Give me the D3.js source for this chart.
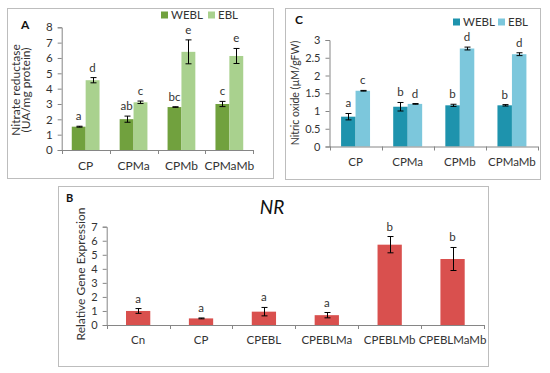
<!DOCTYPE html>
<html><head><meta charset="utf-8">
<script src="https://cdn.jsdelivr.net/npm/d3@7/dist/d3.min.js"></script>
<style>body{margin:0;background:#fff}svg{display:block;font-family:Lato,"Open Sans",sans-serif}</style>
</head><body><svg id="c" width="550" height="373"></svg>
<script>
// Panel A: Nitrate reductase
const catsA = ["CP","CPMa","CPMb","CPMaMb"];
const seriesA = ["WEBL","EBL"];
const webA = [1.52, 2.01, 2.80, 3.00];
const webAErr = [0.03, 0.2, 0.02, 0.17];
const eblA = [4.55, 3.11, 6.40, 6.13];
const eblAErr = [0.17, 0.08, 0.78, 0.49];
const webALet = ["a","ab","bc","c"];
const eblALet = ["d","c","e","e"];
const ticksA = [0,1,2,3,4,5,6,7,8];

// Panel C: Nitric oxide
const catsC = ["CP","CPMa","CPMb","CPMaMb"];
const webC = [0.84, 1.12, 1.16, 1.16];
const webCErr = [0.09, 0.12, 0.03, 0.02];
const eblC = [1.57, 1.20, 2.76, 2.60];
const eblCErr = [0.01, 0.01, 0.04, 0.04];
const webCLet = ["a","b","b","b"];
const eblCLet = ["c","d","d","d"];
const ticksC = [0,0.5,1,1.5,2,2.5,3];

// Panel B: NR relative expression
const catsB = ["Cn","CP","CPEBL","CPEBLMa","CPEBLMb","CPEBLMaMb"];
const valB = [1.0, 0.47, 0.95, 0.70, 5.72, 4.70];
const errB = [0.17, 0.03, 0.30, 0.19, 0.58, 0.82];
const letB = ["a","a","a","a","b","b"];
const ticksB = [0,1,2,3,4,5,6,7];

const svg = d3.select("#c");
const axisCol = "#868686", txt = "#333";

function frame(x0,y0,x1,y1){
  svg.append("rect").attr("x",x0+0.5).attr("y",y0+0.5).attr("width",x1-x0).attr("height",y1-y0)
    .attr("fill","none").attr("stroke","#bdbdbd").attr("stroke-width",1);
}

function yAxis(y, x, ticks, fmt, fs){
  const g = svg.append("g").attr("transform",`translate(${x},0)`)
    .call(d3.axisLeft(y).tickValues(ticks).tickSize(4).tickPadding(5).tickFormat(fmt));
  g.select(".domain").attr("stroke",axisCol);
  g.selectAll(".tick line").attr("stroke",axisCol);
  g.selectAll("text").attr("fill",txt).style("font-size",fs+"px").style("font-family","Lato");
}

function xAxis(x, yPos, labelY, fs){
  const [r0,r1] = x.range();
  svg.append("line").attr("x1",r0).attr("x2",r1).attr("y1",yPos+0.5).attr("y2",yPos+0.5).attr("stroke",axisCol);
  const bounds = x.domain().map(d=>x(d)).concat([r1]);
  svg.append("g").selectAll("line").data(bounds).join("line")
    .attr("x1",d=>Math.round(d)+0.5).attr("x2",d=>Math.round(d)+0.5).attr("y1",yPos).attr("y2",yPos+4).attr("stroke",axisCol);
  svg.append("g").selectAll("text").data(x.domain()).join("text")
    .attr("x",d=>x(d)+x.bandwidth()/2).attr("y",labelY).attr("text-anchor","middle")
    .attr("fill",txt).style("font-size",fs+"px").text(d=>d);
}

function errBars(data, y, cap){
  const g = svg.append("g").attr("stroke","#000").attr("stroke-width",1);
  data.forEach(d=>{
    const cx = Math.round(d.cx)+0.5;
    g.append("line").attr("x1",cx).attr("x2",cx).attr("y1",y(d.v+d.e)).attr("y2",y(d.v-d.e));
    g.append("line").attr("x1",cx-cap).attr("x2",cx+cap).attr("y1",y(d.v+d.e)).attr("y2",y(d.v+d.e));
    g.append("line").attr("x1",cx-cap).attr("x2",cx+cap).attr("y1",y(d.v-d.e)).attr("y2",y(d.v-d.e));
  });
}

function letters(data, y, fs){
  svg.append("g").selectAll("text").data(data).join("text")
    .attr("x",d=>d.cx).attr("y",d=>y(d.v+d.e)-6).attr("text-anchor","middle")
    .attr("fill",txt).style("font-size",fs+"px").text(d=>d.l);
}

function groupedPanel(o){
  const y = d3.scaleLinear().domain([0,o.ymax]).range([o.y0,o.y1]);
  const x = d3.scaleBand().domain(o.cats).range([o.x0,o.x1]).padding(0);
  const xs = d3.scaleBand().domain(seriesA).range([0,x.bandwidth()]).paddingInner(0).paddingOuter(o.po);
  const sets = [
    {s:"WEBL",v:o.w,e:o.we,l:o.wl,c:o.cw},
    {s:"EBL",v:o.b,e:o.be,l:o.bl,c:o.cb}
  ];
  const all = [];
  sets.forEach(S=>{
    o.cats.forEach((c,i)=>{
      all.push({x:x(c)+xs(S.s), w:xs.bandwidth(), cx:x(c)+xs(S.s)+xs.bandwidth()/2, v:S.v[i], e:S.e[i], l:S.l[i], c:S.c});
    });
  });
  svg.append("g").selectAll("rect").data(all).join("rect")
    .attr("x",d=>d.x).attr("width",d=>d.w).attr("y",d=>y(d.v)).attr("height",d=>y(0)-y(d.v)).attr("fill",d=>d.c);
  yAxis(y,o.x0,o.ticks,o.fmt,o.fsTick);
  xAxis(x,o.y0,o.labY,o.fsCat);
  errBars(all,y,3);
  letters(all,y,o.fsLet);
  // legend
  const lg = svg.append("g");
  sets.forEach((S,i)=>{
    const lx = o.legX[i];
    lg.append("rect").attr("x",lx).attr("y",o.legY-3.5).attr("width",7).attr("height",7).attr("fill",S.c);
    lg.append("text").attr("x",lx+10).attr("y",o.legY+4).attr("fill",txt).style("font-size","11.5px").text(S.s);
  });
}

// Panel A
frame(7,8,273,178);
groupedPanel({cats:catsA,w:webA,we:webAErr,wl:webALet,b:eblA,be:eblAErr,bl:eblALet,
  ymax:8,y0:150,y1:27.3,x0:61.7,x1:253.3,po:0.725,ticks:ticksA,fmt:d3.format("d"),
  cw:"#71a13e",cb:"#a9d18e",labY:169.5,legX:[161,208],legY:15,fsTick:11.5,fsCat:12,fsLet:11.5});
svg.append("text").attr("x",21).attr("y",28.5).style("font-size","12px").style("font-weight","bold").attr("fill","#111").text("A");
svg.append("text").attr("transform","translate(19.5,90) rotate(-90)").attr("text-anchor","middle")
  .style("font-size","12px").attr("fill",txt).text("Nitrate reductase");
svg.append("text").attr("transform","translate(30,90) rotate(-90)").attr("text-anchor","middle")
  .style("font-size","12px").attr("fill",txt).text("(UA/mg protein)");

// Panel C
frame(285,8,540,179);
groupedPanel({cats:catsC,w:webC,we:webCErr,wl:webCLet,b:eblC,be:eblCErr,bl:eblCLet,
  ymax:3,y0:146.5,y1:40,x0:329.5,x1:538,po:0.8,ticks:ticksC,fmt:d=>String(d),
  cw:"#1e93ad",cb:"#7cc7dc",labY:166,legX:[453,498],legY:22,fsTick:11,fsCat:11.5,fsLet:11.5});
svg.append("text").attr("x",295).attr("y",23.5).style("font-size","12px").style("font-weight","bold").attr("fill","#111").text("C");
svg.append("text").attr("transform","translate(299,93) rotate(-90)").attr("text-anchor","middle")
  .style("font-size","10.5px").attr("fill",txt).text("Nitric oxide (µM/gFW)");

// Panel B
frame(58,186,488,366);
{
  const y = d3.scaleLinear().domain([0,7]).range([325,226.7]);
  const x = d3.scaleBand().domain(catsB).range([106.7,484]).padding(0);
  const bw = x.bandwidth()*0.386;
  const data = catsB.map((c,i)=>({x:x(c)+(x.bandwidth()-bw)/2, cx:x(c)+x.bandwidth()/2, v:valB[i], e:errB[i], l:letB[i]}));
  svg.append("g").selectAll("rect").data(data).join("rect")
    .attr("x",d=>d.x).attr("width",bw).attr("y",d=>y(d.v)).attr("height",d=>y(0)-y(d.v)).attr("fill","#d9504e");
  yAxis(y,106.7,ticksB,d3.format("d"),11);
  xAxis(x,325,343.5,11.5);
  errBars(data,y,3);
  letters(data,y,11.5);
  svg.append("text").attr("x",66).attr("y",202).style("font-size","11px").style("font-weight","bold").attr("fill","#111").text("B");
  svg.append("text").attr("x",272).attr("y",213.5).attr("text-anchor","middle").style("font-size","19px")
    .style("font-style","italic").attr("fill","#111").text("NR");
  svg.append("text").attr("transform","translate(85,274) rotate(-90)").attr("text-anchor","middle")
    .style("font-size","12px").attr("fill",txt).text("Relative Gene Expression");
}
</script></body></html>
